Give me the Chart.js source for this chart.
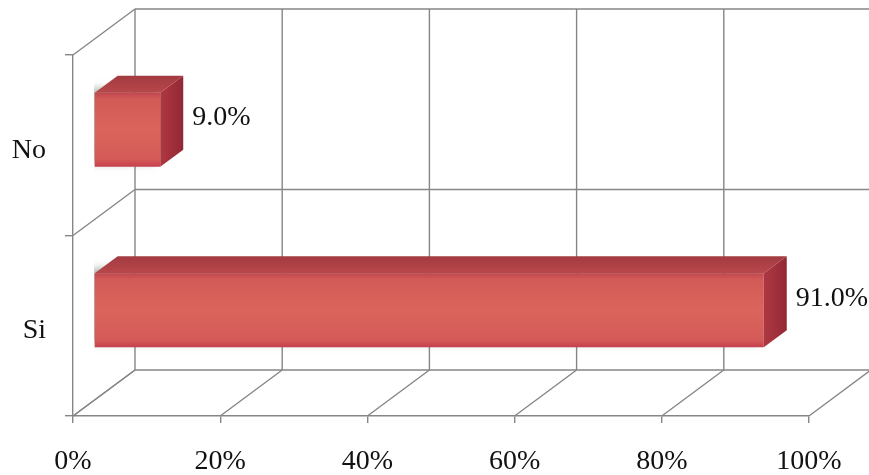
<!DOCTYPE html>
<html>
<head>
<meta charset="utf-8">
<script src="https://cdn.jsdelivr.net/npm/chart.js@4/dist/chart.umd.min.js"></script>
<style>
  html, body { margin: 0; padding: 0; background: #ffffff; }
  #wrap { width: 869px; height: 475px; position: relative; }
</style>
</head>
<body>
<div id="wrap"><canvas id="chart"></canvas></div>
<script>
// Answers and their shares (%)
const categories = ['No', 'Si'];
const shares = [9.0, 91.0];
// Value axis ticks (%)
const xTicks = [0, 20, 40, 60, 80, 100];

const FONT = "'Liberation Serif', 'Times New Roman', serif";
const GRID = '#868686';

// 3D geometry: offset of the back wall, and where each bar sits in depth
const WALL = { dx: 62, dy: -46 };
const BAR_NEAR = { dx: 21, dy: -15.5 };
const BAR_THICK = { dx: 23, dy: -17 };

function line(ctx, x1, y1, x2, y2) {
  ctx.beginPath();
  ctx.moveTo(x1, y1);
  ctx.lineTo(x2, y2);
  ctx.stroke();
}

const box3d = {
  id: 'box3d',
  beforeDatasetsDraw(chart) {
    const { ctx, chartArea: a, scales: { x, y } } = chart;
    ctx.save();
    ctx.strokeStyle = GRID;
    ctx.lineWidth = 1.4;
    const xEnd = x.getPixelForValue(xTicks[xTicks.length - 1]);
    // back wall verticals and floor diagonals
    xTicks.forEach(v => {
      const px = x.getPixelForValue(v);
      line(ctx, px + WALL.dx, a.top + WALL.dy, px + WALL.dx, a.bottom + WALL.dy);
      line(ctx, px, a.bottom, px + WALL.dx, a.bottom + WALL.dy);
    });
    // category boundaries: back wall horizontals and side wall diagonals
    for (let k = 0; k <= categories.length; k++) {
      const yb = y.getPixelForValue(k - 0.5);
      line(ctx, a.left + WALL.dx, yb + WALL.dy, xEnd + WALL.dx, yb + WALL.dy);
      line(ctx, a.left, yb, a.left + WALL.dx, yb + WALL.dy);
    }
    ctx.restore();
    // bars' front faces sit partway into the depth
    ctx.save();
    ctx.translate(BAR_NEAR.dx, BAR_NEAR.dy);
    ctx.shadowColor = 'rgba(80, 105, 80, 0.55)';
    ctx.shadowBlur = 8;
    ctx.shadowOffsetX = -5;
    ctx.shadowOffsetY = -4;
  },
  afterDatasetsDraw(chart) {
    const { ctx } = chart;
    ctx.restore();
    const meta = chart.getDatasetMeta(0);
    ctx.save();
    meta.data.forEach((el, i) => {
      const p = el.getProps(['x', 'y', 'base', 'height'], true);
      const left = p.base + BAR_NEAR.dx;
      const right = p.x + BAR_NEAR.dx;
      const top = p.y - p.height / 2 + BAR_NEAR.dy;
      const bottom = p.y + p.height / 2 + BAR_NEAR.dy;
      const t = BAR_THICK;

      // top face
      let g = ctx.createLinearGradient(0, top, 0, top + t.dy);
      g.addColorStop(0, '#b8474a');
      g.addColorStop(1, '#a23b41');
      ctx.fillStyle = g;
      ctx.beginPath();
      ctx.moveTo(left, top);
      ctx.lineTo(right, top);
      ctx.lineTo(right + t.dx, top + t.dy);
      ctx.lineTo(left + t.dx, top + t.dy);
      ctx.closePath();
      ctx.fill();

      // right side face
      g = ctx.createLinearGradient(right, 0, right + t.dx, 0);
      g.addColorStop(0, '#ae3842');
      g.addColorStop(0.5, '#a1303c');
      g.addColorStop(1, '#922835');
      ctx.fillStyle = g;
      ctx.beginPath();
      ctx.moveTo(right, top);
      ctx.lineTo(right + t.dx, top + t.dy);
      ctx.lineTo(right + t.dx, bottom + t.dy);
      ctx.lineTo(right, bottom);
      ctx.closePath();
      ctx.fill();

      // value label
      ctx.fillStyle = '#111111';
      ctx.font = '28px ' + FONT;
      ctx.textAlign = 'left';
      ctx.textBaseline = 'middle';
      ctx.fillText(shares[i].toFixed(1) + '%', right + t.dx + 9, (top + bottom) / 2 - 12);
    });
    ctx.restore();
  }
};

// vertical shading of the bars' front faces
function frontFill(c) {
  const chart = c.chart;
  const a = chart.chartArea;
  if (!a) return '#d8625a';
  const y = chart.scales.y;
  const cy = y.getPixelForValue(c.dataIndex);
  const h = (a.height / categories.length) * 0.41;
  const g = chart.ctx.createLinearGradient(0, cy - h / 2, 0, cy + h / 2);
  g.addColorStop(0, '#c0464f');
  g.addColorStop(0.08, '#d25a57');
  g.addColorStop(0.5, '#db655c');
  g.addColorStop(0.9, '#d45a58');
  g.addColorStop(1, '#c6404e');
  return g;
}

new Chart(document.getElementById('chart'), {
  type: 'bar',
  data: {
    labels: categories,
    datasets: [{
      data: shares,
      backgroundColor: frontFill,
      borderWidth: 0,
      barPercentage: 0.41,
      categoryPercentage: 1.0
    }]
  },
  plugins: [box3d],
  options: {
    indexAxis: 'y',
    responsive: true,
    maintainAspectRatio: false,
    animation: false,
    events: [],
    layout: { padding: { top: 55, right: 60, left: 0, bottom: 0 } },
    plugins: {
      legend: { display: false },
      tooltip: { enabled: false }
    },
    scales: {
      x: {
        type: 'linear',
        min: 0,
        max: 100,
        afterBuildTicks(scale) { scale.ticks = xTicks.map(v => ({ value: v })); },
        afterFit(scale) { scale.height = 59; },
        ticks: {
          callback: v => v + '%',
          color: '#111111',
          font: { family: FONT, size: 28 },
          padding: 22,
          maxRotation: 0
        },
        grid: { drawOnChartArea: false, tickLength: 7, color: GRID, lineWidth: 1.4 },
        border: { color: GRID, width: 1.4 }
      },
      y: {
        type: 'category',
        afterFit(scale) { scale.width = 73; },
        ticks: {
          color: '#111111',
          font: { family: FONT, size: 28 },
          padding: 19,
          labelOffset: 5
        },
        grid: { drawOnChartArea: false, tickLength: 8, color: GRID, lineWidth: 1.4, offset: true },
        border: { color: GRID, width: 1.4 }
      }
    }
  }
});
</script>
</body>
</html>
